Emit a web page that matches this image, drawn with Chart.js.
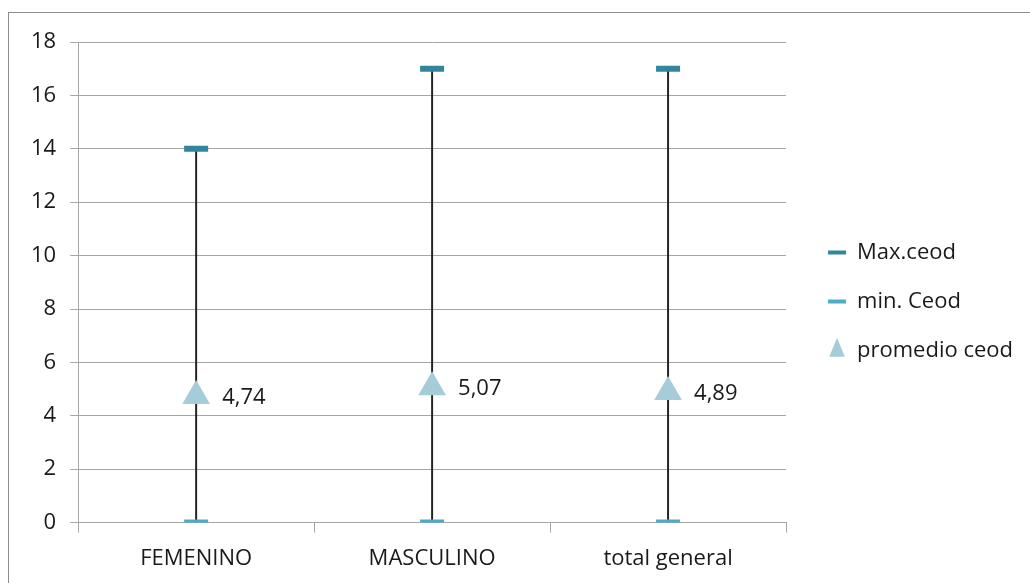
<!DOCTYPE html>
<html>
<head>
<meta charset="utf-8">
<script src="https://cdn.jsdelivr.net/npm/chart.js@4"></script>
<style>
  body { margin: 0; background: #fff; }
  #frame { position: absolute; left: 8px; top: 12px; width: 1100px; height: 700px; border: 1px solid #8c8c8c; }
  #wrap { position: absolute; left: 0; top: 0; width: 1030px; height: 583px; }
</style>
</head>
<body>
<div id="frame"></div>
<div id="wrap"><canvas id="myChart"></canvas></div>
<script>
const categories = ["FEMENINO", "MASCULINO", "total general"];
const maxCeod = [14, 17, 17];
const minCeod = [0, 0, 0];
const promedio = [4.74, 5.07, 4.89];
const yTicks = [0, 2, 4, 6, 8, 10, 12, 14, 16, 18];

const FONT = "'Open Sans', sans-serif";
const TEXT = "#1a1a1a";

// writes "4,74" style labels beside the triangles
const avgLabels = {
    id: "avgLabels",
    afterLayout(chart) {
        // move legend a bit, like the original
        chart.legend.top -= 12;
        chart.legend.bottom -= 12;
        chart.legend.left += 15;
        chart.legend.right += 15;
    },
    afterDatasetsDraw(chart) {
        const meta = chart.getDatasetMeta(2);
        const ctx = chart.ctx;
        ctx.save();
        ctx.font = "22px " + FONT;
        ctx.fillStyle = TEXT;
        ctx.textBaseline = "middle";
        meta.data.forEach((pt, i) => {
            ctx.fillText(promedio[i].toFixed(2).replace(".", ","), pt.x + 26, pt.y + 2);
        });
        ctx.restore();
    },
};

const ctx = document.getElementById("myChart").getContext("2d");
const myChart = new Chart(ctx, {
    type: "bar",
    data: {
        labels: categories,
        datasets: [
            {
                label: "Max.ceod",
                type: "line",
                data: maxCeod,
                showLine: false,
                pointStyle: "line",
                pointRadius: 12,
                pointHoverRadius: 12,
                borderWidth: 6,
                borderColor: "#31859c",
                backgroundColor: "#31859c",
                order: 1,
            },
            {
                label: "min. Ceod",
                type: "line",
                data: minCeod,
                showLine: false,
                pointStyle: "line",
                pointRadius: 12,
                pointHoverRadius: 12,
                borderWidth: 6,
                borderColor: "#4bacc6",
                backgroundColor: "#4bacc6",
                order: 1,
            },
            {
                label: "promedio ceod",
                type: "line",
                data: promedio,
                showLine: false,
                pointStyle: "triangle",
                pointRadius: 16,
                pointHoverRadius: 16,
                borderWidth: 0,
                borderColor: "#a5cdd9",
                backgroundColor: "#a5cdd9",
                order: 0,
            },
            {
                label: "hilo",
                data: categories.map((c, i) => [minCeod[i], maxCeod[i]]),
                backgroundColor: "#222",
                barThickness: 1.3,
                order: 2,
            },
        ],
    },
    options: {
        responsive: true,
        maintainAspectRatio: false,
        animation: false,
        layout: { padding: { top: 42, left: 17, right: 22, bottom: -2 } },
        scales: {
            x: {
                grid: { drawOnChartArea: false, offset: true, tickLength: 10, color: "#a6a6a6" },
                border: { color: "#a6a6a6" },
                ticks: { font: { family: FONT, size: 22 }, color: TEXT, padding: 13 },
            },
            y: {
                min: 0,
                max: 18,
                afterBuildTicks: (axis) => { axis.ticks = yTicks.map((v) => ({ value: v })); },
                grid: { color: "#a6a6a6", tickLength: 8 },
                border: { color: "#a6a6a6" },
                ticks: { font: { family: FONT, size: 22 }, color: TEXT, padding: 14 },
            },
        },
        plugins: {
            legend: {
                position: "right",
                labels: {
                    usePointStyle: true,
                    pointStyleWidth: 18,
                    boxHeight: 18,
                    padding: 27,
                    color: TEXT,
                    font: { family: FONT, size: 22 },
                    filter: (item) => item.datasetIndex < 3,
                    sort: (a, b) => a.datasetIndex - b.datasetIndex,
                    generateLabels(chart) {
                        const items = Chart.defaults.plugins.legend.labels.generateLabels(chart);
                        items.forEach((it) => { if (it.pointStyle === "line") it.lineWidth = 4; });
                        return items;
                    },
                },
            },
            tooltip: { enabled: false },
        },
    },
    plugins: [avgLabels],
});
</script>
</body>
</html>
